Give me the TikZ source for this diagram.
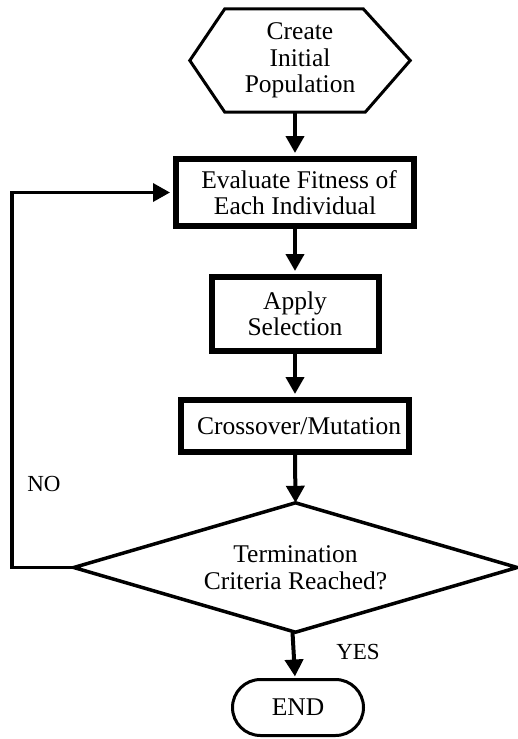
\documentclass[tikz,border=0pt]{standalone}
\usepackage{fontspec}
\setmainfont{Liberation Serif}
\usetikzlibrary{arrows.meta,shapes.misc}
\begin{document}
\begin{tikzpicture}[x=1pt,y=-1pt,
  every node/.style={font=\fontsize{25.5}{26.5}\selectfont, align=center, inner sep=0pt},
  thickbox/.style={draw, line width=6pt, rectangle},
  arr/.style={line width=4pt, -{Triangle[width=18pt,length=17pt]}},
  lbl/.style={font=\fontsize{23}{25}\selectfont}
]
\useasboundingbox (0,0) rectangle (518,739);
% nodes
\node (start) [minimum width=220pt, minimum height=103pt] at (300,60.5) {Create\\Initial\\Population};
\draw[line width=3pt, line join=miter]
  (start.west) -- ([xshift=35pt]start.north west) -- ([xshift=-47pt]start.north east)
  -- (start.east) -- ([xshift=-45pt]start.south east) -- ([xshift=35pt]start.south west) -- cycle;
\node (eval) [thickbox, minimum width=238pt, minimum height=67pt] at (295,192.5) {\hspace*{8pt}Evaluate Fitness of\\Each Individual};
\node (sel) [thickbox, minimum width=167pt, minimum height=74pt] at (295,314) {Apply\\Selection};
\node (cross) [thickbox, minimum width=228pt, minimum height=52pt] at (295,426) {\hspace*{8pt}Crossover/Mutation};
\node (dec) [minimum width=443pt, minimum height=129pt] at (295.5,567.5) {Termination\\Criteria Reached?};
\draw[line width=3.5pt, line join=miter] (dec.west) -- (dec.north) -- (dec.east) -- (dec.south) -- cycle;
\node (end) [rounded rectangle, draw, line width=3pt, minimum width=131pt, minimum height=56pt] at (298,707.5) {END};
\node (no) [lbl] at (44,484) {NO};
\node (yes) [lbl] at (358,652) {YES};
\coordinate (loopc) at (12,567.5);
% connectors
\draw[arr] (eval.north |- start.south) -- ([yshift=3pt]eval.north);
\draw[arr] (eval.south) -- ([yshift=3pt]sel.north);
\draw[arr] (sel.south) -- ([yshift=3pt]cross.north);
\draw[arr] (cross.south) -- (dec.north);
\draw[arr] ([xshift=-3pt]dec.south) -- ([xshift=-3pt,yshift=1.5pt]end.north);
\draw[line width=3.5pt, -{Triangle[width=18pt,length=17pt]}, shorten >=3pt] (dec.west) -- (loopc) |- (eval.west);
\end{tikzpicture}
\end{document}
